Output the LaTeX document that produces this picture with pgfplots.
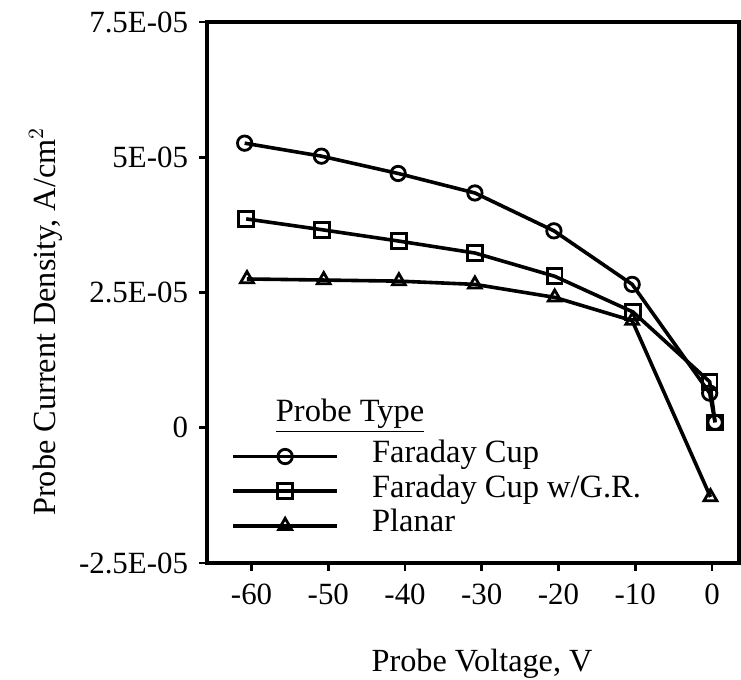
\documentclass[border=0pt]{standalone}
\usepackage{fontspec}
\setmainfont{Liberation Serif}
\usepackage{pgfplots}
\pgfplotsset{compat=1.18}
\begin{document}
\begin{tikzpicture}[x=1bp,y=1bp]
\begin{axis}[
  name=ax, at={(0,0)}, anchor=south west,
  scale only axis, width=266bp, height=270.5bp,
  xmin=-65.81, xmax=3.52, ymin=-2.5e-5, ymax=7.5e-5,
  axis line style={line width=1.9bp},
  xtick={-60,-50,-40,-30,-20,-10,0},
  xticklabels={-60,-50,-40,-30,-20,-10,0},
  ytick={-2.5e-5,0,2.5e-5,5e-5,7.5e-5},
  yticklabels={-2.5E-05,0,2.5E-05,5E-05,7.5E-05},
  scaled ticks=false,
  tick pos=left, tick align=outside,
  major tick length=4bp,
  every tick/.style={line width=1.3bp, black},
  tick label style={font=\fontsize{15.5}{17}\selectfont},
  xticklabel style={yshift=-3bp},
  yticklabel style={xshift=-2bp},
  xlabel={Probe Voltage, V},
  ylabel={Probe Current Density, A/cm$^2$},
  label style={font=\fontsize{16.2}{18}\selectfont},
  xlabel style={at={(axis description cs:0.517,-0.186)}, anchor=center},
  ylabel style={at={(axis description cs:-0.303,0.446)}, anchor=center, rotate=0},
  every axis plot/.append style={line width=1.8bp, black},
  legend style={at={(axis description cs:0.045,0.2295)}, anchor=north west,
    draw=none, fill=none, inner sep=0pt, row sep=0pt,
    font=\fontsize{16.3}{17}\selectfont,
    nodes={inner sep=0pt, text height=11.7bp, text depth=5.6bp}},
  legend cell align=left,
  legend image code/.code={%
    \draw[mark repeat=2,mark phase=2,#1,line width=1.8bp] plot coordinates {(0bp,0bp) (26bp,0bp) (52bp,0bp)};
    \path[draw=none,fill=none] (52bp,0bp) -- (69.5bp,0bp);},
]
\addplot[mark=o, mark size=3.6bp, mark options={fill=white, line width=1.4bp, solid}] coordinates {
 (-60.9,5.26e-5) (-50.9,5.02e-5) (-40.9,4.70e-5) (-30.9,4.34e-5) (-20.6,3.64e-5) (-10.4,2.65e-5) (-0.3,0.64e-5) (0.4,0.10e-5)};
\addlegendentry{Faraday Cup}
\addplot[mark=square, mark size=3.7bp, mark options={fill=white, line width=1.4bp, solid}] coordinates {
 (-60.7,3.86e-5) (-50.8,3.66e-5) (-40.8,3.45e-5) (-30.9,3.23e-5) (-20.5,2.80e-5) (-10.3,2.14e-5) (-0.3,0.85e-5) (0.4,0.10e-5)};
\addlegendentry{Faraday Cup w/G.R.}
\addplot[mark=triangle, mark size=3.7bp, mark options={fill=white, line width=1.4bp, solid}] coordinates {
 (-60.6,2.75e-5) (-50.6,2.73e-5) (-40.8,2.71e-5) (-30.9,2.65e-5) (-20.5,2.41e-5) (-10.4,1.98e-5) (-0.2,-1.28e-5)};
\addlegendentry{Planar}
\node[font=\fontsize{16.3}{17}\selectfont, anchor=base] at (axis description cs:0.269,0.262) {\underline{Probe Type}};
\end{axis}
\pgfresetboundingbox
\path[use as bounding box] (-103.5bp,-58.5bp) rectangle (267bp,281.5bp);
\end{tikzpicture}
\end{document}
